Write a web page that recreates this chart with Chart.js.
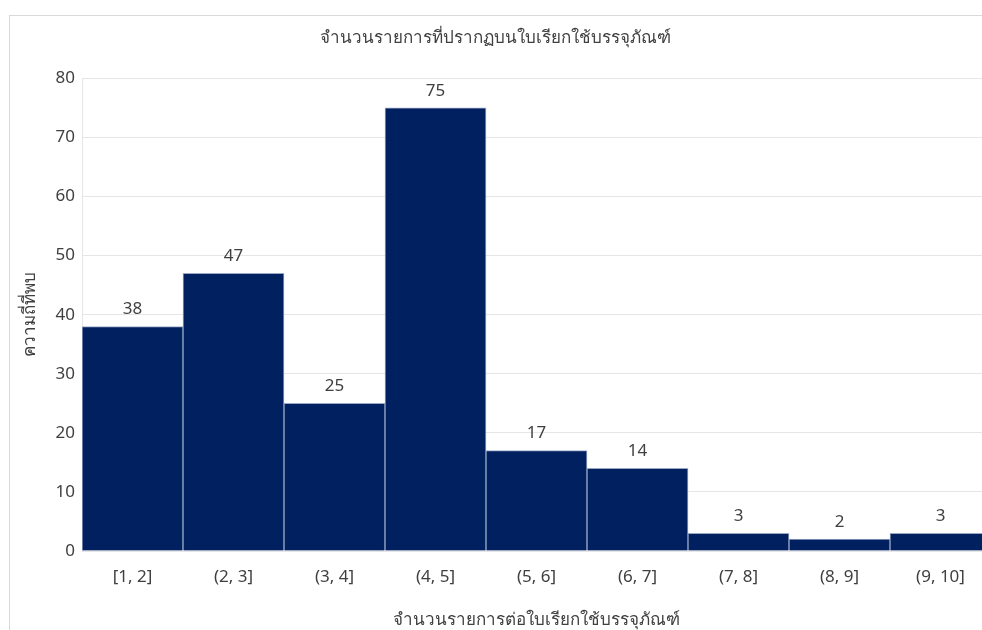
<!DOCTYPE html>
<html>
<head>
<meta charset="utf-8">
<script src="https://cdn.jsdelivr.net/npm/chart.js@4"></script>
<style>
  html, body { margin: 0; padding: 0; background: #fff; overflow: hidden; }
  #frame {
    position: absolute; left: 9px; top: 15px; width: 1100px; height: 700px;
    border: 1px solid #d9d9d9; box-sizing: border-box;
  }
  #wrap { position: absolute; left: 0; top: 0; width: 1000px; height: 630px; }
</style>
</head>
<body>
<div id="frame"></div>
<div id="wrap"><canvas id="hist" width="1000" height="630"></canvas></div>
<script>
const binLabels = ["[1, 2]", "(2, 3]", "(3, 4]", "(4, 5]", "(5, 6]", "(6, 7]", "(7, 8]", "(8, 9]", "(9, 10]"];
const frequencies = [38, 47, 25, 75, 17, 14, 3, 2, 3];
const yTicks = [0, 10, 20, 30, 40, 50, 60, 70, 80];

const chartTitle = "จำนวนรายการที่ปรากฏบนใบเรียกใช้บรรจุภัณฑ์";
const xTitle = "จำนวนรายการต่อใบเรียกใช้บรรจุภัณฑ์";
const yTitle = "ความถี่ที่พบ";

const textColor = "#404040";
const fontFamily = "'Noto Sans', 'DejaVu Sans', sans-serif";

// writes the count above each bar
const valueLabels = {
  id: "valueLabels",
  afterDatasetsDraw(chart) {
    const ctx = chart.ctx;
    const meta = chart.getDatasetMeta(0);
    ctx.save();
    ctx.fillStyle = textColor;
    ctx.font = "17px " + fontFamily;
    ctx.textAlign = "center";
    ctx.textBaseline = "middle";
    meta.data.forEach((bar, i) => {
      ctx.fillText(String(frequencies[i]), bar.x, bar.y - 17);
    });
    ctx.restore();
  },
};

new Chart(document.getElementById("hist"), {
  type: "bar",
  data: {
    labels: binLabels,
    datasets: [
      {
        data: frequencies,
        backgroundColor: "#012060",
        borderColor: "#9aa8c6",
        borderWidth: 1,
        borderSkipped: "bottom",
        barPercentage: 1,
        categoryPercentage: 1,
      },
    ],
  },
  options: {
    responsive: false,
    animation: false,
    layout: { padding: { left: 0, right: 9, top: 0, bottom: 0 } },
    plugins: {
      legend: { display: false },
      tooltip: { enabled: false },
      title: {
        display: true,
        text: chartTitle,
        color: textColor,
        font: { family: fontFamily, size: 17, weight: "normal" },
        padding: { top: 28, bottom: 30 },
      },
    },
    scales: {
      x: {
        grid: { display: false },
        border: { display: false },
        ticks: {
          color: textColor,
          font: { family: fontFamily, size: 17 },
          padding: 8,
        },
        title: {
          display: true,
          text: xTitle,
          color: textColor,
          font: { family: fontFamily, size: 17 },
          padding: { top: 8, bottom: 0 },
        },
        afterFit(scale) {
          scale.height = 79;
        },
      },
      y: {
        min: 0,
        max: 80,
        afterBuildTicks(scale) {
          scale.ticks = yTicks.map((v) => ({ value: v }));
        },
        grid: { color: "#e6e6e6", drawTicks: false },
        border: { display: true, color: "#e6e6e6" },
        ticks: {
          color: textColor,
          font: { family: fontFamily, size: 17 },
          padding: 7,
        },
        title: {
          display: true,
          text: yTitle,
          color: textColor,
          font: { family: fontFamily, size: 17 },
          padding: { top: 20, bottom: 0 },
        },
        afterFit(scale) {
          scale.width = 82;
        },
      },
    },
  },
  plugins: [valueLabels],
});
</script>
</body>
</html>
